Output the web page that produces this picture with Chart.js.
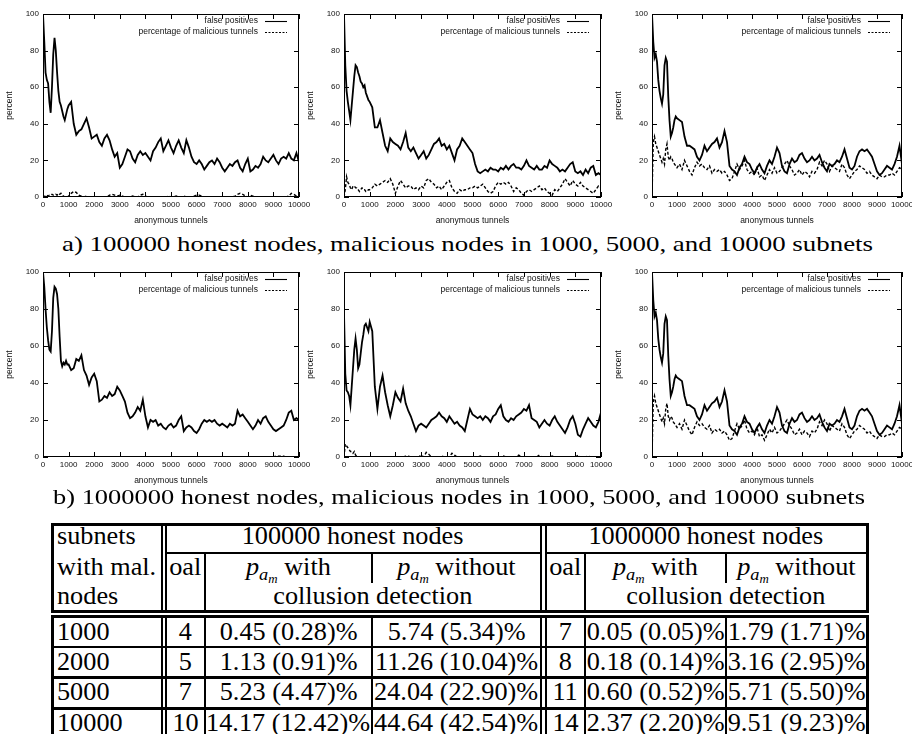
<!DOCTYPE html>
<html>
<head>
<meta charset="utf-8">
<script src="https://cdn.jsdelivr.net/npm/chart.js@4.4.1/dist/chart.umd.min.js"></script>
<style>
html, body { margin: 0; padding: 0; background: #fff; }
body { width: 912px; height: 734px; overflow: hidden; position: relative; font-family: "Liberation Serif", serif; color: #000; }
canvas { position: absolute; }
.cap { position: absolute; white-space: nowrap; font-size: 21px; line-height: 21px; }
.cap span { display: inline-block; transform-origin: left center; }
.ln { position: absolute; background: #000; }
.txt { position: absolute; white-space: nowrap; font-size: 25px; line-height: 25px; }
.txt span { display: inline-block; transform: scaleX(1.05); }
.txt.l span { transform-origin: left center; }
.txt.c span { transform-origin: center center; }
sub { font-size: 0.7em; vertical-align: -0.28em; line-height: 0; }
</style>
</head>
<body>
<canvas id="a1"></canvas><canvas id="a2"></canvas><canvas id="a3"></canvas>
<canvas id="b1"></canvas><canvas id="b2"></canvas><canvas id="b3"></canvas>
<script>
// x values (anonymous tunnels)
const tunnels = [0,50,100,150,200,250,300,350,400,450,500,550,600,650,700,750,800,850,900,950,1000,
  1100,1200,1300,1400,1500,1600,1700,1800,1900,2000,
  2100,2200,2300,2400,2500,2600,2700,2800,2900,3000,
  3100,3200,3300,3400,3500,3600,3700,3800,3900,4000,
  4100,4200,4300,4400,4500,4600,4700,4800,4900,5000,
  5100,5200,5300,5400,5500,5600,5700,5800,5900,6000,
  6100,6200,6300,6400,6500,6600,6700,6800,6900,7000,
  7100,7200,7300,7400,7500,7600,7700,7800,7900,8000,
  8100,8200,8300,8400,8500,8600,8700,8800,8900,9000,
  9100,9200,9300,9400,9500,9600,9700,9800,9900,10000];

const xTicks = [0,1000,2000,3000,4000,5000,6000,7000,8000,9000,10000];
const yTicks = [0,20,40,60,80,100];

// a) 100000 honest nodes, 1000 subnets
const fpA1 = [100,85,68,64,62,52,46,60,78,87,80,68,58,52,50,47,44,42,45,48,50,
  52,40,34,36,37,40,43,38,32,33,
  34,30,28,32,34,31,26,22,24,16,
  18,22,26,25,21,19,23,25,23,24,
  22,20,25,27,30,32,25,28,31,27,
  24,28,31,27,24,31,27,22,19,18,
  20,18,15,17,19,20,18,21,19,16,
  14,16,18,17,19,20,16,14,18,21,
  14,15,17,16,18,22,20,19,21,23,
  20,18,21,22,21,24,21,20,24,19];
const malA1 = [0,0,1,1,0.5,1,1,1.5,1,1,1.5,1,2,1.5,2,1,0.5,0,0,0,0.5,
  2,3,2.5,1,0.5,0,0.5,0,0,0,
  0,0,0,0,0,1,1.5,1,0.5,1,
  0.5,0,0,0,0.5,0,0,1,1.5,0.5,
  0,0,0,0,0,0,0,0,0.5,0,
  0,0.5,0,0,0.5,0,0,0,0.5,1,
  1,0.5,0,0,0,0,0,0,0,0,
  0,0,0,0,0.5,1.5,2,1.5,0.5,0,
  1,0.5,0,0,0,0,0,0,0,0,
  0,0,0,0,0,0.5,2,1.5,0.5,1];

// a) 5000 subnets
const fpA2 = [100,72,58,52,47,42,50,58,66,72,71,68,66,63,62,60,61,57,55,53,52,
  49,38,38,42,35,28,25,32,30,29,
  28,26,30,35,27,25,27,24,21,23,
  25,21,23,26,29,30,32,28,29,26,
  28,24,20,26,28,32,30,28,26,24,
  18,14,13,14,15,14,16,15,15,14,
  16,15,17,15,17,18,16,16,15,17,
  20,17,16,15,17,15,15,17,16,20,
  18,17,16,14,15,14,16,18,19,14,
  13,14,12,15,13,16,17,12,13,12];
const malA2 = [0,4,11,8,7,5,4,6,6,5,5,4,3,4,5,4,4,3,3,4,4,
  5,7,6,7,8,9,8,10,7,2,
  6,9,7,5,6,6,4,5,4,6,
  5,9,10,8,7,5,6,4,6,8,
  9,5,3,2,4,3,4,4,5,5,
  6,5,6,7,5,3,2,3,6,8,
  7,8,7,8,6,3,5,4,2,1,
  3,4,3,4,5,6,4,5,3,2,
  1,4,3,5,7,10,8,6,9,7,
  6,8,6,5,4,3,2,4,6,5];

// a) 10000 subnets (same curves appear in b)
const fpA3 = [100,85,76,78,74,64,58,54,51,56,72,76,74,55,42,33,35,38,42,44,43,
  42,41,33,28,28,27,26,22,20,23,
  28,25,27,29,30,32,27,30,36,30,
  17,15,14,12,16,18,22,19,18,15,
  13,16,18,15,13,17,20,18,22,27,
  24,17,14,13,18,21,19,20,23,24,
  21,19,20,22,20,21,23,19,16,14,
  18,17,18,20,19,22,26,21,16,15,
  17,22,25,26,25,26,24,22,18,14,
  12,13,15,17,16,15,18,22,28,18];
const malA3 = [0,30,33,29,27,25,23,21,19,21,18,26,29,22,20,22,21,19,18,17,16,
  18,15,20,17,14,12,16,19,17,18,
  16,15,17,13,15,14,15,13,14,12,
  9,10,14,18,15,17,20,15,13,14,
  12,16,11,12,9,12,15,13,16,13,
  14,16,18,20,17,15,12,13,15,12,
  14,13,11,14,13,15,19,17,20,18,
  14,17,16,15,14,18,16,12,10,12,
  14,15,17,16,15,13,14,12,11,10,
  12,11,11,12,12,13,12,14,16,15];

// b) 1000000 honest nodes, 1000 subnets
const fpB1 = [100,92,80,70,63,58,57,68,86,92,91,88,80,65,52,49,51,50,52,50,50,
  47,48,53,52,55,47,44,39,43,45,
  41,30,31,33,32,35,33,34,38,36,
  33,30,24,21,22,24,27,25,31,22,
  16,20,19,20,17,18,16,15,17,18,
  16,17,20,22,14,16,17,16,14,13,
  15,18,20,19,20,19,20,18,17,18,
  17,16,18,17,18,25,22,23,21,19,
  17,15,17,20,18,21,22,19,17,15,
  14,15,16,17,20,24,25,20,21,20];
const malB1 = [0,0,0,0,0,0,0,0,0,0,0,0,0,0,0,0,0,0,0,0,0,
  0,0,0,0,0,0,0,0,0,0,
  0,0,0,0,0,0,0,0,0,0,
  0,0,0,0,0,0,0,0,0,0,
  0,0,0,0,0,0,0,0,0,0,
  0,0,0,0,0,0,0,0,0,0,
  0,0,0,0,0,0,0,0,0,0,
  0,0,0,0,0,0,0,0,0,0,
  0,0,0,0,0,0,0,0,0,0,
  0.5,0.5,0.5,0.5,0,0,0,0,0,0];

// b) 5000 subnets
const fpB2 = [78,45,36,35,33,28,38,48,58,64,58,48,50,56,62,66,71,72,70,68,73,
  68,38,26,38,44,35,28,22,28,35,
  32,30,37,29,25,22,18,14,17,18,
  17,16,18,20,21,22,24,22,21,19,
  22,20,18,19,17,16,14,20,26,23,
  22,21,22,20,22,21,19,22,23,26,
  28,22,20,19,21,20,22,23,24,26,
  25,28,21,20,19,16,18,20,18,17,
  20,22,19,17,15,13,16,20,22,18,
  12,11,15,18,21,19,17,16,19,24];
const malB2 = [0,7,6,5,4,3,3,2,3,1,0.5,0,0,0,0,0,0,0,0,0,0,
  0,0,0,0,0,0,0,0,0,0,
  0,0,0,0.5,0.5,0,0,0,0,1,
  0,2.5,1.5,0,0,0,0,0.5,0,0,
  0,2,1,0,0,0,0,0,0,0,
  0,0,0.5,0,0,0,0,0,0,0,
  0,0.5,0,0,0,0,0,1,0,0,
  0,0,0,0,0,1,0,0,0,0,
  0.5,0,0,0,0,0,0,0,0,0,
  1,0,0,0,0.5,0,0,0,0,0];

// table
const subnets = ['1000', '2000', '5000', '10000'];
const oal100k = ['4', '5', '7', '10'];
const with100k = ['0.45 (0.28)%', '1.13 (0.91)%', '5.23 (4.47)%', '14.17 (12.42)%'];
const without100k = ['5.74 (5.34)%', '11.26 (10.04)%', '24.04 (22.90)%', '44.64 (42.54)%'];
const oal1m = ['7', '8', '11', '14'];
const with1m = ['0.05 (0.05)%', '0.18 (0.14)%', '0.60 (0.52)%', '2.37 (2.20)%'];
const without1m = ['1.79 (1.71)%', '3.16 (2.95)%', '5.71 (5.50)%', '9.51 (9.23)%'];

const seriesLabels = ['false positives', 'percentage of malicious tunnels'];

// gnuplot style frame, inward ticks and key
const gnuFrame = {
    id: 'gnuFrame',
    afterDraw(chart) {
        const { ctx, chartArea: a, scales: { x, y } } = chart;
        ctx.save();
        ctx.strokeStyle = '#000';
        ctx.lineWidth = 1;
        ctx.strokeRect(a.left + 0.5, a.top + 0.5, a.width - 1, a.height - 1);
        ctx.beginPath();
        x.ticks.forEach(t => {
            const px = Math.round(x.getPixelForValue(t.value)) + 0.5;
            ctx.moveTo(px, a.bottom); ctx.lineTo(px, a.bottom - 5);
            ctx.moveTo(px, a.top); ctx.lineTo(px, a.top + 5);
        });
        y.ticks.forEach(t => {
            const py = Math.round(y.getPixelForValue(t.value)) + 0.5;
            ctx.moveTo(a.left, py); ctx.lineTo(a.left + 5, py);
            ctx.moveTo(a.right, py); ctx.lineTo(a.right - 5, py);
        });
        ctx.stroke();

        ctx.font = '8.5px "Liberation Sans"';
        ctx.textAlign = 'right';
        ctx.textBaseline = 'middle';
        ctx.fillStyle = '#111';
        chart.data.datasets.forEach((ds, i) => {
            const yy = a.top + 7 + i * 11;
            ctx.fillText(ds.label, a.right - 41, yy);
            ctx.setLineDash(i ? [2, 1.5] : []);
            ctx.lineWidth = 1.1;
            ctx.beginPath();
            ctx.moveTo(a.right - 34, yy + 0.5);
            ctx.lineTo(a.right - 12, yy + 0.5);
            ctx.stroke();
        });
        ctx.restore();
    }
};

const axisFont = { family: 'Liberation Sans', size: 8 };
const titleFont = { family: 'Liberation Sans', size: 8.5 };

function drawPanel(id, left, top, height, padRight, fp, mal) {
    const cv = document.getElementById(id);
    cv.width = 320; cv.height = height;
    cv.style.left = left + 'px'; cv.style.top = top + 'px';
    cv.style.width = '320px'; cv.style.height = height + 'px';

    new Chart(cv, {
        type: 'line',
        data: {
            labels: tunnels,
            datasets: [
                { label: seriesLabels[0], data: fp, borderColor: '#000', borderWidth: 1.8,
                  pointRadius: 0, tension: 0, fill: false },
                { label: seriesLabels[1], data: mal, borderColor: '#000', borderWidth: 1.4,
                  borderDash: [3, 2], pointRadius: 0, tension: 0, fill: false }
            ]
        },
        options: {
            responsive: false,
            animation: false,
            events: [],
            layout: { padding: { top: 14, right: padRight, bottom: 0, left: 0 } },
            plugins: { legend: { display: false }, tooltip: { enabled: false } },
            scales: {
                x: {
                    type: 'linear', min: 0, max: 10000,
                    grid: { display: false, drawTicks: false },
                    border: { display: false },
                    afterBuildTicks: s => { s.ticks = xTicks.map(v => ({ value: v })); },
                    ticks: { autoSkip: false, maxRotation: 0, minRotation: 0, padding: 3,
                             color: '#111', font: axisFont, callback: v => String(v) },
                    title: { display: true, text: 'anonymous tunnels', color: '#111',
                             font: titleFont, padding: { top: 0, bottom: 4 } },
                    afterFit: s => { s.height = 33; }
                },
                y: {
                    min: 0, max: 100,
                    grid: { display: false, drawTicks: false },
                    border: { display: false },
                    afterBuildTicks: s => { s.ticks = yTicks.map(v => ({ value: v })); },
                    ticks: { padding: 4, color: '#111', font: axisFont, callback: v => String(v) },
                    title: { display: true, text: 'percent', color: '#111',
                             font: titleFont, padding: { top: 5, bottom: 0 } },
                    afterFit: s => { s.width = 43; }
                }
            }
        },
        plugins: [gnuFrame]
    });
}

drawPanel('a1', 0,   0,   230, 21, fpA1, malA1);
drawPanel('a2', 301, 0,   230, 20, fpA2, malA2);
drawPanel('a3', 609, 0,   230, 27, fpA3, malA3);
drawPanel('b1', 0,   258, 232, 21, fpB1, malB1);
drawPanel('b2', 301, 258, 232, 20, fpB2, malB2);
drawPanel('b3', 609, 258, 232, 27, fpA3, malA3);

// captions
function caption(text, x1, x2, baseline) {
    const d = document.createElement('div');
    d.className = 'cap';
    d.style.left = x1 + 'px';
    d.style.top = (baseline - 17.6) + 'px';
    const s = document.createElement('span');
    s.textContent = text;
    d.appendChild(s);
    document.body.appendChild(d);
    const w = s.getBoundingClientRect().width;
    s.style.transform = 'scaleX(' + ((x2 - x1) / w) + ')';
}
caption('a) 100000 honest nodes, malicious nodes in 1000, 5000, and 10000 subnets', 62, 873, 252);
caption('b) 1000000 honest nodes, malicious nodes in 1000, 5000, and 10000 subnets', 53, 865, 505);

// table rules
const rules = [
    [51, 523, 818, 3], [51, 610, 818, 3], [51, 523, 3, 90], [866, 523, 3, 90],
    [161, 523, 2, 90], [165, 523, 2, 90], [540, 523, 2, 90], [545, 523, 2, 90],
    [166, 552, 374, 2], [546, 552, 321, 2],
    [204, 553, 2, 59], [371, 553, 2, 30], [584, 553, 2, 59], [725, 553, 2, 30],
    [51, 615, 818, 3], [51, 615, 3, 130], [866, 615, 3, 130],
    [161, 615, 2, 130], [165, 615, 2, 130], [540, 615, 2, 130], [545, 615, 2, 130],
    [204, 615, 2, 130], [371, 615, 2, 130], [584, 615, 2, 130], [725, 615, 2, 130],
    [51, 646, 818, 2], [51, 676, 818, 3], [51, 707, 818, 3]
];
rules.forEach(r => {
    const d = document.createElement('div');
    d.className = 'ln';
    d.style.left = r[0] + 'px'; d.style.top = r[1] + 'px';
    d.style.width = r[2] + 'px'; d.style.height = r[3] + 'px';
    document.body.appendChild(d);
});

function cell(html, x1, x2, baseline, align) {
    const d = document.createElement('div');
    d.className = 'txt ' + (align === 'left' ? 'l' : 'c');
    d.style.left = x1 + 'px';
    d.style.width = (x2 - x1) + 'px';
    d.style.top = (baseline - 20.9) + 'px';
    d.style.textAlign = align;
    d.innerHTML = '<span>' + html + '</span>';
    document.body.appendChild(d);
}
const P = '<i>p</i><sub><i>a</i><sub><i>m</i></sub></sub>';
cell('subnets', 57, 160, 544, 'left');
cell('100000 honest nodes', 166, 540, 544, 'center');
cell('1000000 honest nodes', 546, 866, 544, 'center');
cell('with mal.', 57, 160, 575, 'left');
cell('oal', 166, 204, 575, 'center');
cell(P + ' with', 206, 371, 575, 'center');
cell(P + ' without', 373, 540, 575, 'center');
cell('oal', 546, 584, 575, 'center');
cell(P + ' with', 586, 725, 575, 'center');
cell(P + ' without', 727, 866, 575, 'center');
cell('nodes', 57, 160, 604, 'left');
cell('collusion detection', 206, 540, 604, 'center');
cell('collusion detection', 586, 866, 604, 'center');

const rowBase = [640, 670, 700, 731];
subnets.forEach((s, i) => {
    const b = rowBase[i];
    cell(s, 57, 160, b, 'left');
    cell(oal100k[i], 167, 204, b, 'center');
    cell(with100k[i], 206, 371, b, 'center');
    cell(without100k[i], 373, 540, b, 'center');
    cell(oal1m[i], 547, 584, b, 'center');
    cell(with1m[i], 586, 725, b, 'center');
    cell(without1m[i], 727, 866, b, 'center');
});
</script>
</body>
</html>
